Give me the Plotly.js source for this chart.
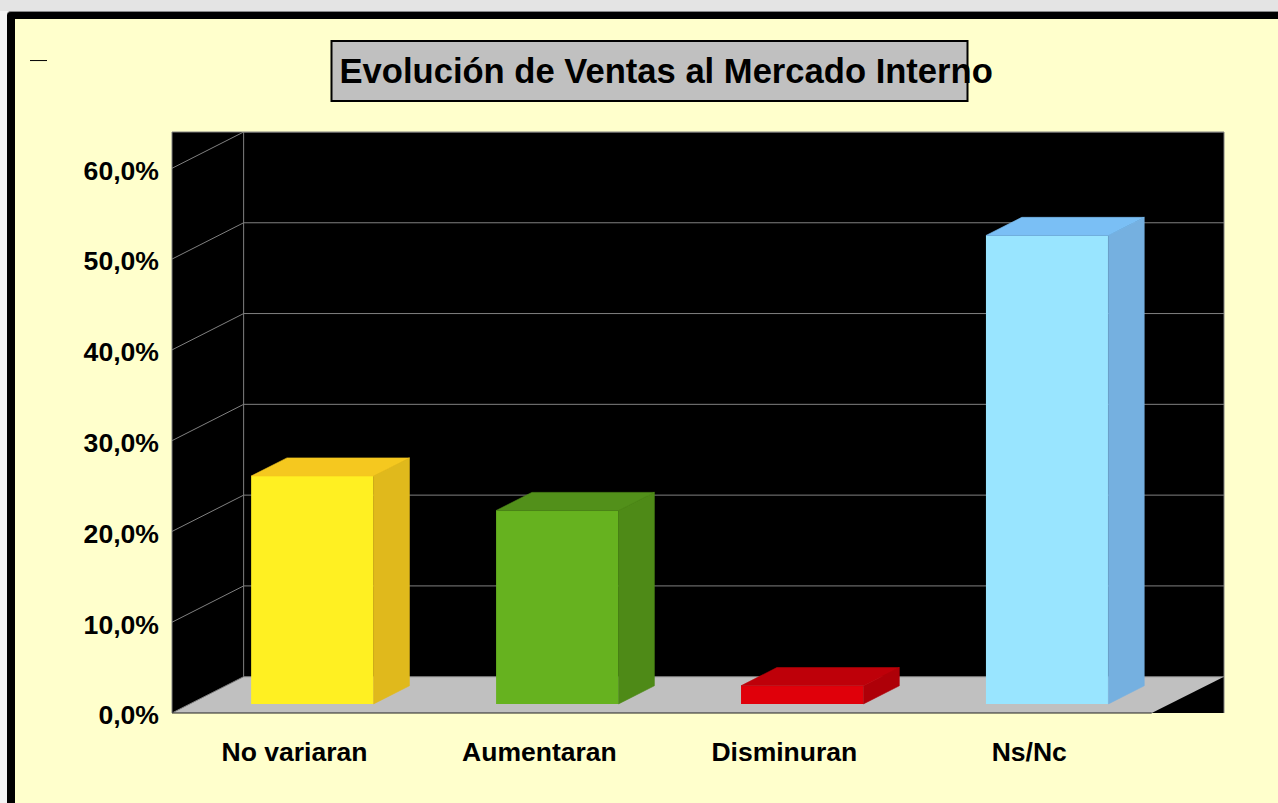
<!DOCTYPE html>
<html>
<head>
<meta charset="utf-8">
<script src="https://cdn.plot.ly/plotly-3.0.1.min.js"></script>
<style>
html,body{margin:0;padding:0;width:1278px;height:803px;overflow:hidden;background:#f4f4f4;}
#topbar{position:absolute;left:0;top:0;width:1278px;height:11px;background:#e4e4e4;}
#frame{position:absolute;left:7px;top:11px;width:1271px;height:792px;background:#000;border-top:1px solid #888;border-top-left-radius:4px;}
#chart{position:absolute;left:15px;top:19px;width:1263px;height:784px;}
</style>
</head>
<body>
<div id="topbar"></div>
<div id="frame"></div>
<div id="chart"></div>
<script>
const titleText = "Evolución de Ventas al Mercado Interno";
const categories = ["No variaran", "Aumentaran", "Disminuran", "Ns/Nc"];
const values = [25.1, 21.3, 2.0, 51.6];
const yTicks = [0, 10, 20, 30, 40, 50, 60];
const frontColors = ["#FFF022", "#66B21F", "#E0000A", "#99E5FF"];
const sideColors = ["#E0B91C", "#4E8A17", "#AE0008", "#75B0E0"];
const topColors = ["#F5C81F", "#52901A", "#BE0009", "#7ABFF5"];

const W = 1263, H = 784;
const FONT = "'Liberation Sans', Arial, sans-serif";
const XMIN = -0.5, XMAX = 3.795, YMAX = 64;
const DX = 0.2925, DY = 4;          // oblique projection of the chart's depth
const BAR_W = 0.5, D0 = 0.25, D1 = 0.75;
const GRID = "#808080";

function P(x, v, d) { return [x + d * DX, v + d * DY]; }
function face(pts, color) {
  return {
    type: "scatter", mode: "lines", fill: "toself", fillcolor: color,
    x: pts.map(p => p[0]).concat([pts[0][0]]),
    y: pts.map(p => p[1]).concat([pts[0][1]]),
    line: {width: 0.6, color: color}, hoverinfo: "skip", showlegend: false
  };
}

const traces = [];
// front faces
traces.push({
  type: "bar",
  x: categories.map((c, i) => i + D0 * DX),
  y: values,
  base: categories.map(() => D0 * DY),
  width: BAR_W,
  marker: {color: frontColors, line: {width: 0}},
  hoverinfo: "skip", showlegend: false
});
// side and top faces
values.forEach((v, i) => {
  const l = i - BAR_W / 2, r = i + BAR_W / 2;
  traces.push(face([P(r, 0, D0), P(r, 0, D1), P(r, v, D1), P(r, v, D0)], sideColors[i]));
  traces.push(face([P(l, v, D0), P(r, v, D0), P(r, v, D1), P(l, v, D1)], topColors[i]));
});

function seg(x0, y0, x1, y1, color) {
  return {type: "line", xref: "x", yref: "y", x0, y0, x1, y1, layer: "below",
          line: {color: color, width: 1}};
}
function edge(x0, y0, x1, y1, color) {
  return {type: "line", xref: "paper", yref: "paper", x0, y0, x1, y1, layer: "above",
          line: {color: color, width: 1}};
}
const shapes = [];
// floor
const floor = [P(XMIN, 0, 0), P(XMIN, 0, 1), [XMAX, DY], P(XMIN + 4, 0, 0)];
shapes.push({type: "path", xref: "x", yref: "y", layer: "below",
  path: "M" + floor.map(p => p[0] + "," + p[1]).join(" L") + " Z",
  fillcolor: "#C0C0C0", line: {width: 0}});
// grid on the side wall and on the back wall
yTicks.forEach(v => {
  shapes.push(seg(XMIN, v, XMIN + DX, v + DY, GRID));
  shapes.push(seg(XMIN + DX, v + DY, XMAX, v + DY, GRID));
});
// frame edges
shapes.push(seg(XMIN + DX, DY, XMIN + DX, YMAX, GRID));
shapes.push(edge(0, 0, 0, 1, GRID));
shapes.push(edge(1, 0, 1, 1, GRID));
shapes.push(edge(0, 1, 1, 1, GRID));
shapes.push(edge(0, 0, 4 / (XMAX - XMIN), 0, "#222222"));
// title box and the small stray dash (page pixels relative to the chart div)
shapes.push({type: "rect", xref: "paper", yref: "paper", layer: "above",
  x0: (331.5 - 172) / 1052 , x1: (967.5 - 172) / 1052,
  y0: (713.5 - 101) / 581.5, y1: (713.5 - 41) / 581.5,
  fillcolor: "#C0C0C0", line: {color: "#000", width: 2}});
shapes.push({type: "line", xref: "paper", yref: "paper", layer: "above",
  x0: (30 - 172) / 1052, x1: (47 - 172) / 1052,
  y0: (713.5 - 60.5) / 581.5, y1: (713.5 - 60.5) / 581.5,
  line: {color: "#000", width: 1}});

const layout = {
  width: W, height: H,
  margin: {l: 157, r: 54, t: 113, b: 89.5, pad: 0},
  paper_bgcolor: "#FFFFCC",
  plot_bgcolor: "#000000",
  separators: ",.",
  showlegend: false,
  barmode: "overlay",
  title: {
    text: "<b>" + titleText + "</b>",
    font: {family: FONT, size: 34.6, color: "#000"},
    xref: "container", yref: "container",
    x: (339.5 - 15) / W, xanchor: "left",
    y: 1 - (71 - 19) / H, yanchor: "middle"
  },
  xaxis: {
    range: [XMIN, XMAX], tickmode: "array", tickvals: categories.map((c, i) => i),
    ticktext: categories.map(c => "<b>" + c + "</b>"),
    ticks: "", showgrid: false, zeroline: false, showline: false,
    tickfont: {family: FONT, size: 26.5, color: "#000"},
    ticklabelstandoff: 20, fixedrange: true
  },
  yaxis: {
    range: [0, YMAX], tickmode: "array", tickvals: yTicks,
    ticktext: yTicks.map(v => "<b>" + v + ",0%</b>"),
    ticks: "", showgrid: false, zeroline: false, showline: false,
    tickfont: {family: FONT, size: 26.6, color: "#000"},
    ticklabelstandoff: 12, ticklabelshift: 2, fixedrange: true
  },
  shapes: shapes
};
Plotly.newPlot("chart", traces, layout, {displayModeBar: false, staticPlot: true});
</script>
</body>
</html>
